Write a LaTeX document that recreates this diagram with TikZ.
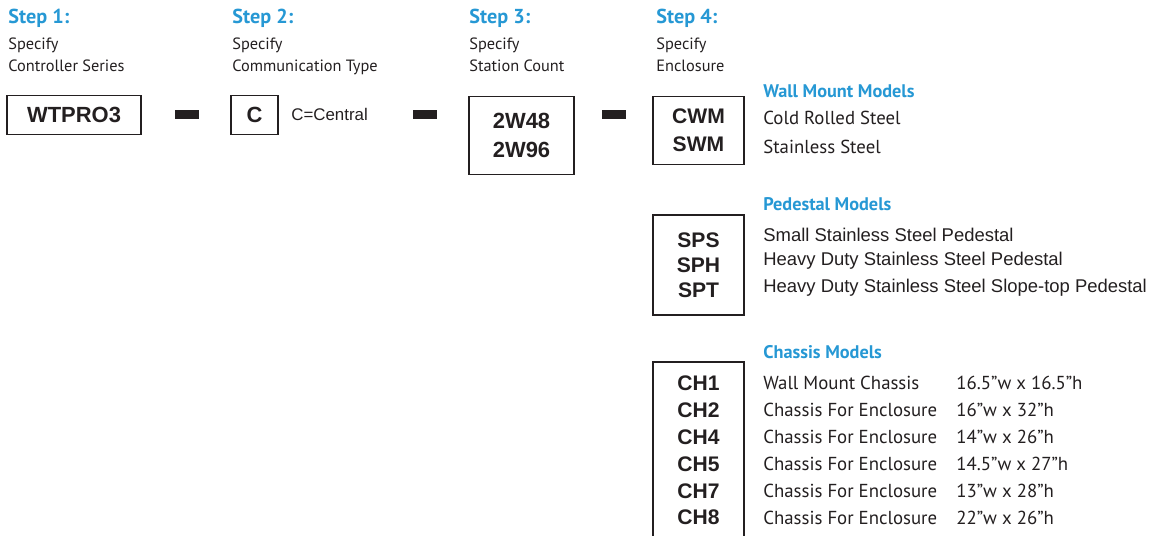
\documentclass[tikz,border=0pt]{standalone}
\usepackage{fontspec}
\setmainfont{PT Sans}
\newfontfamily\arialfont{Liberation Sans}
\usepackage{tikz}
\usetikzlibrary{positioning}
\definecolor{stepblue}{RGB}{38,152,212}
\definecolor{inkdark}{RGB}{35,31,32}
\tikzset{
  stephead/.style={anchor=west, inner sep=0pt, text=stepblue,
    font=\fontsize{11.5}{13}\selectfont\bfseries},
  steptext/.style={anchor=north west, align=left, inner sep=0pt, text=inkdark,
    font=\fontsize{9.3}{12}\selectfont},
  codebox/.style={rectangle, draw=inkdark, line width=1.1pt, align=center,
    inner sep=0pt, text=inkdark, font=\arialfont\bfseries\fontsize{12.5}{17}\selectfont},
  dashbar/.style={rectangle, fill=inkdark, draw=none, minimum width=0.48cm,
    minimum height=0.18cm, inner sep=0pt},
  grouphead/.style={anchor=west, inner sep=0pt, text=stepblue,
    font=\fontsize{10.4}{12}\selectfont\bfseries},
  itemtext/.style={anchor=west, inner sep=0pt, text=inkdark,
    font=\fontsize{10.7}{12}\selectfont},
  arialtext/.style={anchor=west, inner sep=0pt, text=inkdark,
    font=\arialfont\fontsize{10.5}{12}\selectfont}
}

\begin{document}
\begin{tikzpicture}[x=0.02cm, y=-0.02cm]
  \clip (0,0) rectangle (1152,536);
  % ── step headings ──
  \node[stephead] (s1) at (8, 18) {Step 1:};
  \node[steptext] (t1) at (8, 38) {Specify\\Controller Series};
  \node[stephead] (s2) at (232, 18) {Step 2:};
  \node[steptext] (t2) at (232, 38) {Specify\\Communication Type};
  \node[stephead] (s3) at (469, 18) {Step 3:};
  \node[steptext] (t3) at (469, 38) {Specify\\Station Count};
  \node[stephead] (s4) at (656, 18) {Step 4:};
  \node[steptext] (t4) at (656, 38) {Specify\\Enclosure};

  % ── code boxes and dashes (y = 95 – 175) ──
  \node[codebox, minimum width=2.68cm, minimum height=0.78cm] (series) at (74, 115) {WTPRO3};
  \node[dashbar] (d1) at (186.5, 114.5) {};
  \node[codebox, minimum width=0.94cm, minimum height=0.78cm] (comm) at (254.5, 115) {C};
  \node[arialtext, font=\arialfont\fontsize{9.6}{11}\selectfont] (central) at (291, 114) {C=Central};
  \node[dashbar] (d2) at (425, 114.5) {};
  \node[codebox, minimum width=2.1cm, minimum height=1.56cm] (count) at (521.5, 135.5) {2W48\\2W96};
  \node[dashbar] (d3) at (613.5, 114.5) {};

  % ── enclosure boxes ──
  \node[codebox, minimum width=1.82cm, minimum height=1.36cm,
    font=\arialfont\bfseries\fontsize{12}{16}\selectfont] (wall) at (698.5, 130.5) {CWM\\SWM};
  \node[codebox, minimum width=1.82cm, minimum height=2.0cm,
    font=\arialfont\bfseries\fontsize{12}{14.2}\selectfont] (pedestal) at (698.5, 265) {SPS\\SPH\\SPT};
  \node[codebox, minimum width=1.82cm, minimum height=3.54cm,
    font=\arialfont\bfseries\fontsize{12}{15.3}\selectfont] (chassis) at (698.5, 450.5) {CH1\\CH2\\CH4\\CH5\\CH7\\CH8};

  % ── Wall Mount Models ──
  \node[grouphead] (wallhd) at (763, 91) {Wall Mount Models};
  \node[itemtext] (w1) at (763, 118) {Cold Rolled Steel};
  \node[itemtext] (w2) at (763, 147) {Stainless Steel};

  % ── Pedestal Models ──
  \node[grouphead] (pedhd) at (763, 204) {Pedestal Models};
  \node[arialtext] (p1) at (763, 235) {Small Stainless Steel Pedestal};
  \node[arialtext] (p2) at (763, 261) {Heavy Duty Stainless Steel Pedestal};
  \node[arialtext] (p3) at (763, 288) {Heavy Duty Stainless Steel Slope-top Pedestal};

  % ── Chassis Models ──
  \node[grouphead] (chhd) at (763, 352) {Chassis Models};
  \foreach \desc/\dims [count=\i] in {Wall Mount Chassis/16.5”w x 16.5”h,
      Chassis For Enclosure/16”w x 32”h, Chassis For Enclosure/14”w x 26”h,
      Chassis For Enclosure/14.5”w x 27”h, Chassis For Enclosure/13”w x 28”h,
      Chassis For Enclosure/22”w x 26”h} {
    \node[itemtext] (c\i) at (763, 356 + 27*\i) {\desc};
    \node[itemtext] (cd\i) at (956, 356 + 27*\i) {\dims};
  }
\end{tikzpicture}
\end{document}
